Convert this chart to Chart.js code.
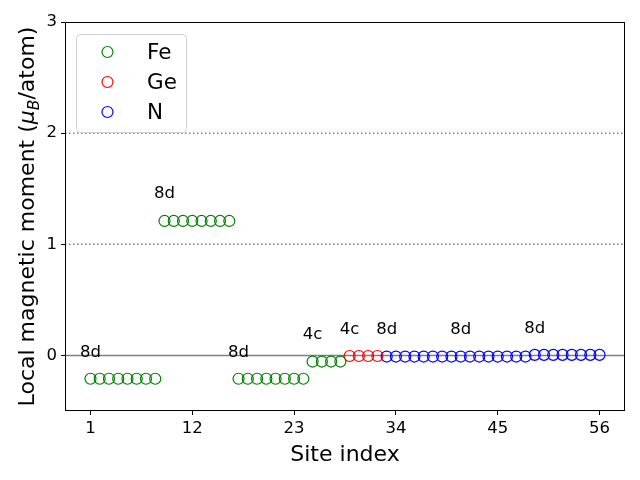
<!DOCTYPE html>
<html>
<head>
<meta charset="utf-8">
<script src="https://cdn.jsdelivr.net/npm/chart.js@4/dist/chart.umd.min.js"></script>
<style>
  html, body { margin: 0; padding: 0; background: #fff; }
  #wrap { width: 640px; height: 480px; position: relative; }
</style>
</head>
<body>
<div id="wrap"><canvas id="c"></canvas></div>
<script>
// ---- data ----
const feSites = [1,2,3,4,5,6,7,8,9,10,11,12,13,14,15,16,17,18,19,20,21,22,23,24,25,26,27,28];
const feMoments = [-0.21,-0.21,-0.21,-0.21,-0.21,-0.21,-0.21,-0.21,
                   1.21,1.21,1.21,1.21,1.21,1.21,1.21,1.21,
                   -0.21,-0.21,-0.21,-0.21,-0.21,-0.21,-0.21,-0.21,
                   -0.055,-0.055,-0.055,-0.055];
const geSites = [29,30,31,32];
const geMoments = [-0.005,-0.005,-0.005,-0.005];
const nSites = [33,34,35,36,37,38,39,40,41,42,43,44,45,46,47,48,49,50,51,52,53,54,55,56];
const nMoments = [-0.01,-0.01,-0.01,-0.01,-0.01,-0.01,-0.01,-0.01,
                  -0.01,-0.01,-0.01,-0.01,-0.01,-0.01,-0.01,-0.01,
                  0.005,0.005,0.005,0.005,0.005,0.005,0.005,0.005];
const seriesNames = ['Fe','Ge','N'];
const labelSites = [1,9,17,25,29,33,41,49];
const labelTexts = ['8d','8d','8d','4c','4c','8d','8d','8d'];
const labelHeights = [-0.01,1.42,-0.01,0.145,0.195,0.19,0.19,0.205];
const xTicks = [1,12,23,34,45,56];
const yTicks = [0,1,2,3];
const solidRefLines = [0];
const dottedRefLines = [1,2];

const FONT = 'DejaVu Sans';
const toPts = (xs, ys) => xs.map((x, i) => ({x: x, y: ys[i]}));

const refLinesPlugin = {
  id: 'refLines',
  beforeDatasetsDraw(chart) {
    const {ctx, chartArea: a, scales: {y}} = chart;
    ctx.save();
    ctx.strokeStyle = '#808080';
    ctx.lineWidth = 1.5;
    dottedRefLines.forEach(v => {
      const py = y.getPixelForValue(v);
      ctx.setLineDash([1.5, 2.5]);
      ctx.beginPath(); ctx.moveTo(a.left, py); ctx.lineTo(a.right, py); ctx.stroke();
    });
    ctx.setLineDash([]);
    solidRefLines.forEach(v => {
      const py = y.getPixelForValue(v);
      ctx.beginPath(); ctx.moveTo(a.left, py); ctx.lineTo(a.right, py); ctx.stroke();
    });
    ctx.restore();
  },
  afterDraw(chart) {
    const {ctx, chartArea: a, scales: {x, y}} = chart;
    ctx.save();
    // frame
    ctx.strokeStyle = '#000';
    ctx.lineWidth = 1;
    ctx.strokeRect(Math.round(a.left) + 0.5, Math.round(a.top) + 0.5,
                   Math.round(a.right - a.left) - 1, Math.round(a.bottom - a.top) - 1);
    // annotations
    ctx.fillStyle = '#000';
    ctx.font = '16.5px "' + FONT + '"';
    ctx.textAlign = 'center';
    ctx.textBaseline = 'alphabetic';
    labelSites.forEach((s, i) => {
      ctx.fillText(labelTexts[i], x.getPixelForValue(s), y.getPixelForValue(labelHeights[i]));
    });
    // x title
    ctx.font = '22px "' + FONT + '"';
    ctx.fillText('Site index', (a.left + a.right) / 2, 461);
    // y title with italic mu and subscript B
    const parts = [
      {t: 'Local magnetic moment (', f: '22px "' + FONT + '"', dy: 0},
      {t: 'μ', f: 'italic 22px "' + FONT + '"', dy: 0},
      {t: 'B', f: 'italic 15.5px "' + FONT + '"', dy: 4.5},
      {t: '/atom)', f: '22px "' + FONT + '"', dy: 0}
    ];
    let total = 0;
    parts.forEach(p => { ctx.font = p.f; p.w = ctx.measureText(p.t).width; total += p.w; });
    ctx.translate(34, (a.top + a.bottom) / 2);
    ctx.rotate(-Math.PI / 2);
    ctx.textAlign = 'left';
    let cx = -total / 2;
    parts.forEach(p => { ctx.font = p.f; ctx.fillText(p.t, cx, p.dy); cx += p.w; });
    ctx.restore();
    // legend
    ctx.save();
    const lx = 76.5, ly = 34.5, lw = 110, lh = 98, r = 4;
    ctx.beginPath();
    ctx.moveTo(lx + r, ly);
    ctx.lineTo(lx + lw - r, ly); ctx.quadraticCurveTo(lx + lw, ly, lx + lw, ly + r);
    ctx.lineTo(lx + lw, ly + lh - r); ctx.quadraticCurveTo(lx + lw, ly + lh, lx + lw - r, ly + lh);
    ctx.lineTo(lx + r, ly + lh); ctx.quadraticCurveTo(lx, ly + lh, lx, ly + lh - r);
    ctx.lineTo(lx, ly + r); ctx.quadraticCurveTo(lx, ly, lx + r, ly);
    ctx.closePath();
    ctx.fillStyle = 'rgba(255,255,255,0.8)';
    ctx.fill();
    ctx.strokeStyle = '#d0d0d0';
    ctx.lineWidth = 1;
    ctx.stroke();
    chart.data.datasets.forEach((ds, i) => {
      const my = 52 + i * 30;
      ctx.beginPath();
      ctx.arc(107.5, my, 5.5, 0, Math.PI * 2);
      ctx.strokeStyle = ds.borderColor;
      ctx.lineWidth = 1.2;
      ctx.stroke();
      ctx.fillStyle = '#000';
      ctx.font = '21.5px "' + FONT + '"';
      ctx.textAlign = 'left';
      ctx.textBaseline = 'middle';
      ctx.fillText(ds.label, 147, my + 1);
    });
    ctx.restore();
  }
};

const tickFont = {family: FONT, size: 16.5};

new Chart(document.getElementById('c'), {
  type: 'scatter',
  data: {
    datasets: [
      {label: seriesNames[0], data: toPts(feSites, feMoments), borderColor: '#008000'},
      {label: seriesNames[1], data: toPts(geSites, geMoments), borderColor: '#ff0000'},
      {label: seriesNames[2], data: toPts(nSites, nMoments), borderColor: '#0000ff'}
    ].map(d => Object.assign(d, {
      backgroundColor: 'rgba(0,0,0,0)', pointRadius: 5.5, pointHoverRadius: 5.5,
      pointBorderWidth: 1.2, borderWidth: 1.2, showLine: false
    }))
  },
  options: {
    responsive: true,
    maintainAspectRatio: false,
    animation: false,
    events: [],
    layout: {padding: {top: 22, right: 15, left: 0, bottom: 0}},
    plugins: {legend: {display: false}, tooltip: {enabled: false}},
    scales: {
      x: {
        type: 'linear', min: -1.75, max: 58.75,
        afterBuildTicks: s => { s.ticks = xTicks.map(v => ({value: v})); },
        afterFit: s => { s.height = 69; },
        grid: {drawOnChartArea: false, drawTicks: true, tickLength: 4, color: '#000', lineWidth: 1},
        border: {display: false},
        ticks: {font: tickFont, color: '#000', padding: 4, maxRotation: 0, autoSkip: false}
      },
      y: {
        type: 'linear', min: -0.5, max: 3,
        afterBuildTicks: s => { s.ticks = yTicks.map(v => ({value: v})); },
        afterFit: s => { s.width = 65; },
        grid: {drawOnChartArea: false, drawTicks: true, tickLength: 4, color: '#000', lineWidth: 1},
        border: {display: false},
        ticks: {font: tickFont, color: '#000', padding: 4, autoSkip: false}
      }
    }
  },
  plugins: [refLinesPlugin]
});
</script>
</body>
</html>
